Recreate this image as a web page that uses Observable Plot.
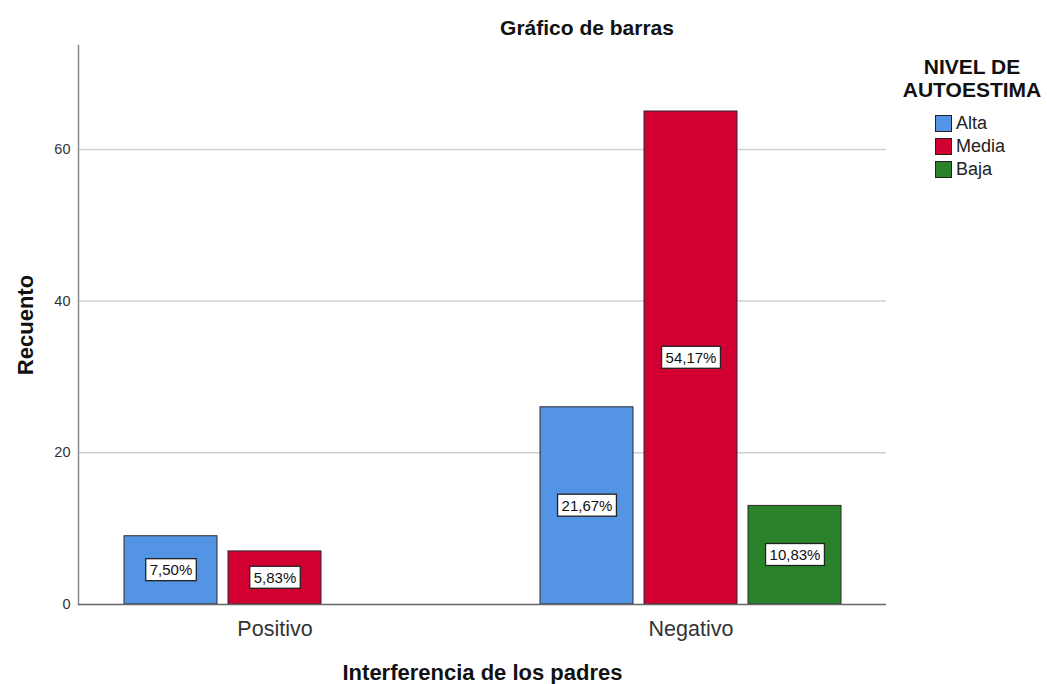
<!DOCTYPE html>
<html>
<head>
<meta charset="utf-8">
<script src="https://cdn.jsdelivr.net/npm/d3@7"></script>
<script src="https://cdn.jsdelivr.net/npm/@observablehq/plot@0.6"></script>
<style>
  body { margin: 0; background: #fff; font-family: "Liberation Sans", Arial, sans-serif; }
  #wrap { position: relative; width: 1047px; height: 684px; }
  #chart svg { position: absolute; left: 0; top: 0; }
  #title { position: absolute; left: 487px; width: 200px; top: 17px; text-align: center;
           font-weight: bold; font-size: 21px; line-height: 21px; color: #111; }
  #legend-title { position: absolute; left: 892px; width: 160px; top: 55px; text-align: center;
           font-weight: bold; font-size: 21px; line-height: 23px; color: #111; }
  #legend { position: absolute; left: 935px; top: 112px; }
  .item { display: flex; align-items: center; height: 23px; font-size: 18px; color: #222; }
  .sw { width: 17px; height: 17px; box-sizing: border-box; border: 1px solid #222; margin-right: 4px; }
</style>
</head>
<body>
<div id="wrap">
  <div id="chart"></div>
  <div id="title">Gráfico de barras</div>
  <div id="legend-title">NIVEL DE<br>AUTOESTIMA</div>
  <div id="legend"></div>
</div>
<script>
// ---- data ----
const categories = ["Positivo", "Negativo"];
const levels = ["Alta", "Media", "Baja"];
const levelColors = ["#5494e4", "#d20030", "#2a832b"];
const countsAlta = [9, 26];
const countsMedia = [7, 65];
const countsBaja = [null, 13];
const pctAlta = ["7,50%", "21,67%"];
const pctMedia = ["5,83%", "54,17%"];
const pctBaja = [null, "10,83%"];
const yTicks = [0, 20, 40, 60];
const xTitle = "Interferencia de los padres";
const yTitle = "Recuento";

// ---- build table ----
const countsBy = {Alta: countsAlta, Media: countsMedia, Baja: countsBaja};
const pctBy = {Alta: pctAlta, Media: pctMedia, Baja: pctBaja};
const rows = [];
categories.forEach((c, i) => levels.forEach(l => {
  if (countsBy[l][i] != null) rows.push({key: c + "|" + l, category: c, level: l, count: countsBy[l][i], pct: pctBy[l][i]});
}));
const xDomain = categories.flatMap((c, i) => [...(i ? ["gap" + i] : []), ...levels.map(l => c + "|" + l)]);
const midLevel = levels[Math.floor(levels.length / 2)];

const plot = Plot.plot({
  width: 1047,
  height: 684,
  marginLeft: 78,
  marginRight: 161,
  marginTop: 45,
  marginBottom: 80,
  style: {fontFamily: '"Liberation Sans", Arial, sans-serif', background: "transparent"},
  x: {domain: xDomain, paddingInner: 0.11, paddingOuter: 0.41},
  y: {domain: [0, 73.7]},
  color: {domain: levels, range: levelColors},
  marks: [
    Plot.gridY(yTicks.filter(t => t > 0), {stroke: "#cfcfcf", strokeOpacity: 1, strokeWidth: 1.5}),
    Plot.frame({anchor: "left", stroke: "#8a8a8a", strokeWidth: 1.5}),
    Plot.barY(rows, {x: "key", y: "count", fill: "level", stroke: "#2b2b2b", strokeWidth: 1}),
    Plot.ruleY([0], {stroke: "#666", strokeWidth: 1.5}),
    Plot.text(rows, {x: "key", y: d => d.count / 2, text: "pct", fontSize: 15, fill: "#111"}),
    Plot.axisY({ticks: yTicks, tickSize: 0, tickPadding: 8, fontSize: 14.5, label: null, color: "#333"}),
    Plot.axisX({ticks: categories.map(c => c + "|" + midLevel), tickSize: 0, tickPadding: 16,
                tickFormat: d => d.split("|")[0], fontSize: 21.5, label: null, color: "#333"}),
    Plot.text([xTitle], {text: d => d, frameAnchor: "bottom", dy: 75, lineAnchor: "bottom",
                         fontSize: 22, fontWeight: "bold", fill: "#111"}),
    Plot.text([yTitle], {text: d => d, frameAnchor: "left", dx: -46, rotate: -90, lineAnchor: "bottom",
                         textAnchor: "middle", fontSize: 22, fontWeight: "bold", fill: "#111"})
  ]
});
document.getElementById("chart").append(plot);

// white boxes behind percentage labels
const NS = "http://www.w3.org/2000/svg";
plot.querySelectorAll("text").forEach(t => {
  if (!/%$/.test(t.textContent)) return;
  const bb = t.getBBox();
  const r = document.createElementNS(NS, "rect");
  r.setAttribute("x", bb.x - 4);
  r.setAttribute("y", bb.y - 2.5);
  r.setAttribute("width", bb.width + 8);
  r.setAttribute("height", bb.height + 5);
  r.setAttribute("fill", "#fff");
  r.setAttribute("stroke", "#222");
  r.setAttribute("stroke-width", 1.3);
  if (t.getAttribute("transform")) r.setAttribute("transform", t.getAttribute("transform"));
  t.parentNode.insertBefore(r, t);
});

// legend
const legend = document.getElementById("legend");
levels.forEach((l, i) => {
  const item = document.createElement("div");
  item.className = "item";
  const sw = document.createElement("div");
  sw.className = "sw";
  sw.style.background = levelColors[i];
  const lab = document.createElement("span");
  lab.textContent = l;
  item.append(sw, lab);
  legend.append(item);
});
</script>
</body>
</html>
